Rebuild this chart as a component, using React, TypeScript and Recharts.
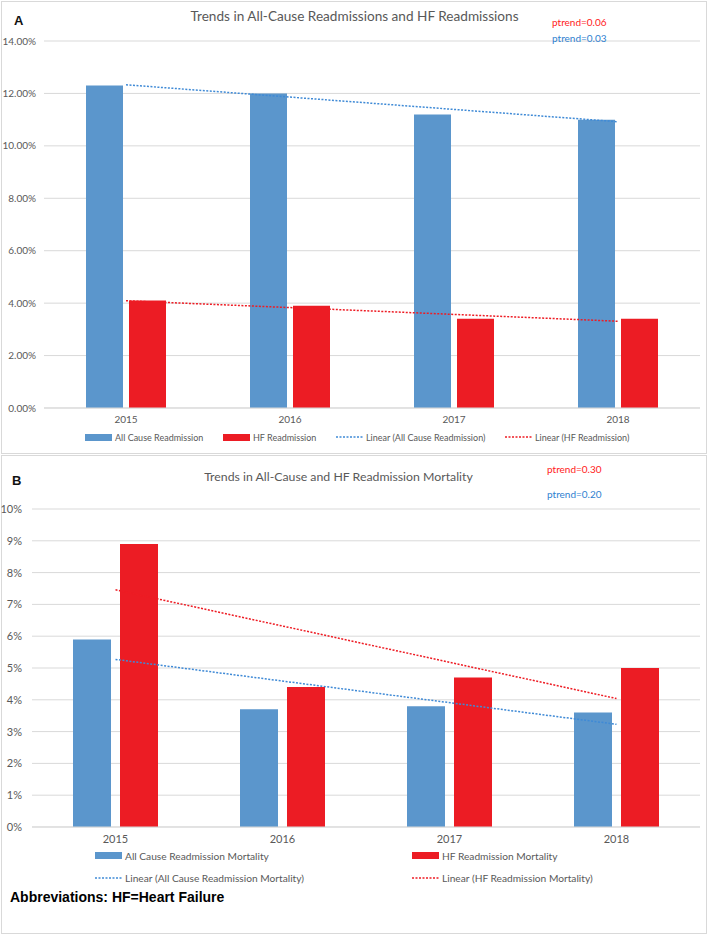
// Readmission and readmission-mortality trends, two stacked panels
import { ComposedChart, Bar, Line, XAxis, YAxis, CartesianGrid } from 'recharts';

const years = ['2015', '2016', '2017', '2018'];

// Panel A: readmissions (%)
const allCauseReadmission = [12.3, 12.0, 11.2, 11.0];
const hfReadmission = [4.1, 3.9, 3.4, 3.4];
const allCauseReadmissionTrend = [12.33, null, null, 10.92];
const hfReadmissionTrend = [4.09, null, null, 3.31];
const ticksA = [0, 2, 4, 6, 8, 10, 12, 14];

// Panel B: readmission mortality (%)
const allCauseMortality = [5.9, 3.7, 3.8, 3.6];
const hfMortality = [8.9, 4.4, 4.7, 5.0];
const allCauseMortalityTrend = [5.27, null, null, 3.23];
const hfMortalityTrend = [7.46, null, null, 4.04];
const ticksB = [0, 1, 2, 3, 4, 5, 6, 7, 8, 9, 10];

const BLUE = '#5b96cc';
const RED = '#ec1c24';
const BLUE_TREND = '#3f8ad6';
const RED_TREND = '#ee1c24';
const GRID = '#d9d9d9';
const TEXT = '#595959';
const FONT = 'Lato, "Open Sans", sans-serif';

const dataA = years.map((year, i) => ({
  year,
  allCause: allCauseReadmission[i],
  hf: hfReadmission[i],
  allCauseTrend: allCauseReadmissionTrend[i],
  hfTrend: hfReadmissionTrend[i],
}));

const dataB = years.map((year, i) => ({
  year,
  allCause: allCauseMortality[i],
  hf: hfMortality[i],
  allCauseTrend: allCauseMortalityTrend[i],
  hfTrend: hfMortalityTrend[i],
}));

const abs = (left: number, top: number, extra: React.CSSProperties = {}): React.CSSProperties => ({
  position: 'absolute',
  left,
  top,
  whiteSpace: 'nowrap',
  lineHeight: 1,
  fontFamily: FONT,
  ...extra,
});

const LegendItem = ({ x, y, label, color, dotted, size = 10 }: { x: number; y: number; label: string; color: string; dotted?: boolean; size?: number }) => (
  <div style={abs(x, y - size / 2, { display: 'flex', alignItems: 'center', fontSize: size, color: TEXT })}>
    {dotted ? (
      <svg width={27} height={4} style={{ marginRight: 3 }}>
        <line x1={0} y1={2} x2={27} y2={2} stroke={color} strokeWidth={1.5} strokeDasharray="2 1.5" />
      </svg>
    ) : (
      <div style={{ width: 27, height: 7, background: color, marginRight: 3 }} />
    )}
    <span>{label}</span>
  </div>
);

export default function App() {
  return (
    <div style={{ position: 'absolute', left: 0, top: 0, width: 709, height: 935, background: '#fff' }}>
      {/* Panel A */}
      <div style={{ position: 'absolute', left: 1, top: 1, width: 704, height: 451, border: `1px solid ${GRID}` }} />
      <div style={{ position: 'absolute', left: 0, top: 0 }}>
        <ComposedChart width={709} height={450} data={dataA} barGap={6} margin={{ top: 41, right: 9, bottom: 12, left: 0 }}>
          <CartesianGrid vertical={false} stroke={GRID} />
          <XAxis dataKey="year" height={30} tickLine={false} axisLine={{ stroke: GRID }} tick={{ fill: TEXT, fontSize: 10, fontFamily: FONT }} />
          <YAxis
            width={44}
            domain={[0, 14]}
            ticks={ticksA}
            axisLine={false}
            tickLine={false}
            tick={{ fill: TEXT, fontSize: 10, fontFamily: FONT }}
            tickFormatter={(v: number) => v.toFixed(2) + '%'}
          />
          <Bar dataKey="allCause" fill={BLUE} barSize={37} isAnimationActive={false} />
          <Bar dataKey="hf" fill={RED} barSize={37} isAnimationActive={false} />
          <Line dataKey="allCauseTrend" stroke={BLUE_TREND} strokeWidth={1.5} strokeDasharray="2 1.5" dot={false} connectNulls isAnimationActive={false} />
          <Line dataKey="hfTrend" stroke={RED_TREND} strokeWidth={1.5} strokeDasharray="2 1.5" dot={false} connectNulls isAnimationActive={false} />
        </ComposedChart>
      </div>
      <div style={abs(14, 14, { fontFamily: 'Arial, "Liberation Sans", sans-serif', fontWeight: 'bold', fontSize: 13, color: '#111' })}>A</div>
      <div style={abs(0, 10, { width: 709, textAlign: 'center', fontSize: 13.6, color: TEXT })}>
        Trends in All-Cause Readmissions and HF Readmissions
      </div>
      <div style={abs(552, 17, { fontSize: 10, color: '#ff1a1a' })}>ptrend=0.06</div>
      <div style={abs(552, 33, { fontSize: 10, color: '#2f7fd0' })}>ptrend=0.03</div>
      <LegendItem x={85} y={437} label="All Cause Readmission" color={BLUE} size={9} />
      <LegendItem x={223} y={437} label="HF Readmission" color={RED} size={9} />
      <LegendItem x={336} y={437} label="Linear (All Cause Readmission)" color={BLUE_TREND} dotted size={9} />
      <LegendItem x={505} y={437} label="Linear (HF Readmission)" color={RED_TREND} dotted size={9} />

      {/* Panel B */}
      <div style={{ position: 'absolute', left: 1, top: 455, width: 704, height: 477, border: `1px solid ${GRID}` }} />
      <div style={{ position: 'absolute', left: 0, top: 455 }}>
        <ComposedChart width={709} height={400} data={dataB} barGap={9} margin={{ top: 54, right: 9, bottom: 8, left: 0 }}>
          <CartesianGrid vertical={false} stroke={GRID} />
          <XAxis dataKey="year" height={20} tickLine={false} axisLine={{ stroke: GRID }} tick={{ fill: TEXT, fontSize: 11, fontFamily: FONT }} />
          <YAxis
            width={32}
            domain={[0, 10]}
            ticks={ticksB}
            axisLine={false}
            tickLine={false}
            tickMargin={4}
            tick={{ fill: TEXT, fontSize: 11, fontFamily: FONT }}
            tickFormatter={(v: number) => v + '%'}
          />
          <Bar dataKey="allCause" fill={BLUE} barSize={38} isAnimationActive={false} />
          <Bar dataKey="hf" fill={RED} barSize={38} isAnimationActive={false} />
          <Line dataKey="allCauseTrend" stroke={BLUE_TREND} strokeWidth={1.5} strokeDasharray="2 1.5" dot={false} connectNulls isAnimationActive={false} />
          <Line dataKey="hfTrend" stroke={RED_TREND} strokeWidth={1.5} strokeDasharray="2 1.5" dot={false} connectNulls isAnimationActive={false} />
        </ComposedChart>
      </div>
      <div style={abs(12, 474, { fontFamily: 'Arial, "Liberation Sans", sans-serif', fontWeight: 'bold', fontSize: 13, color: '#111' })}>B</div>
      <div style={abs(0, 471, { width: 677, textAlign: 'center', fontSize: 12.3, color: TEXT })}>
        Trends in All-Cause and HF Readmission Mortality
      </div>
      <div style={abs(547, 464, { fontSize: 10, color: '#ff1a1a' })}>ptrend=0.30</div>
      <div style={abs(547, 489, { fontSize: 10, color: '#2f7fd0' })}>ptrend=0.20</div>
      <LegendItem x={95} y={856} label="All Cause Readmission Mortality" color={BLUE} size={10.2} />
      <LegendItem x={412} y={856} label="HF Readmission Mortality" color={RED} size={10.2} />
      <LegendItem x={95} y={878} label="Linear (All Cause Readmission Mortality)" color={BLUE_TREND} dotted size={10.2} />
      <LegendItem x={412} y={878} label="Linear (HF Readmission Mortality)" color={RED_TREND} dotted size={10.2} />
      <div style={abs(10, 890, { fontFamily: 'Arial, "Liberation Sans", sans-serif', fontWeight: 'bold', fontSize: 14, color: '#000' })}>
        Abbreviations: HF=Heart Failure
      </div>
    </div>
  );
}
